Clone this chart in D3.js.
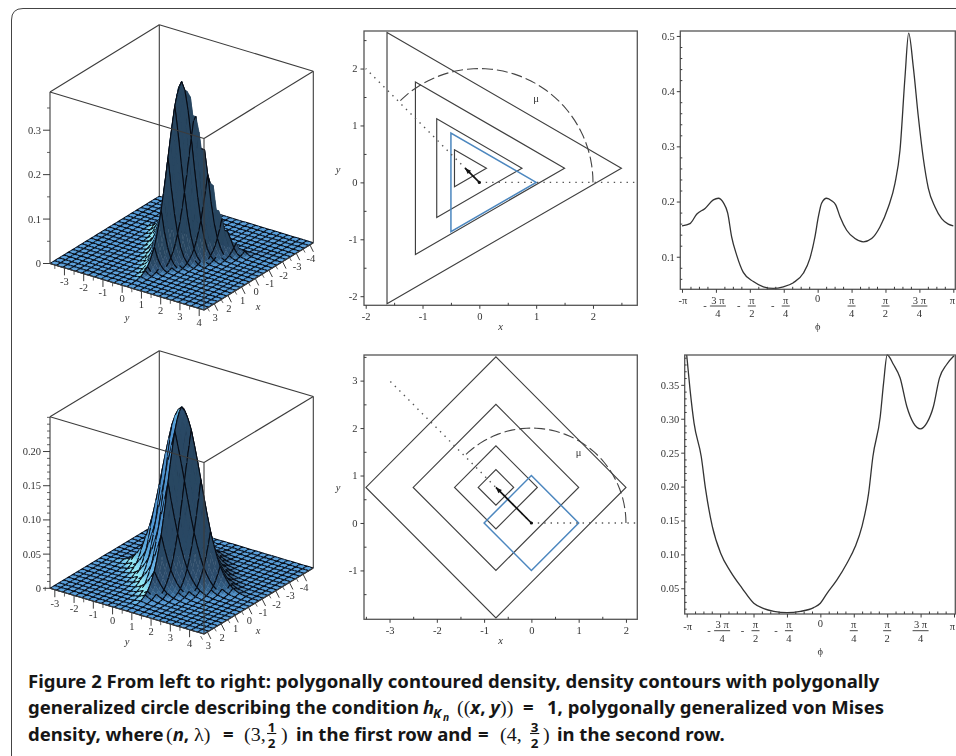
<!DOCTYPE html>
<html><head><meta charset="utf-8">
<style>html,body{margin:0;padding:0;background:#fff}svg{display:block}
.plot{filter:blur(.45px)}
.num{font-family:"Liberation Serif",serif;font-size:10.5px;fill:#333}
.it{font-style:italic}
</style>
<script src="https://d3js.org/d3.v7.min.js"></script></head><body>
<svg id="c" width="956" height="756"></svg>
<script>
// ---- data ----
const zTicksA=[0,0.1,0.2,0.3], zMinorA=[0.05,0.15,0.25,0.35], zLabelsA=["0","0.1","0.2","0.3"];
const zTicksB=[0,0.05,0.10,0.15,0.20], zMinorB=[0.01,0.02,0.03,0.04,0.06,0.07,0.08,0.09,0.11,0.12,0.13,0.14,0.16,0.17,0.18,0.19,0.21,0.22,0.23,0.24,0.25], zLabelsB=["0","0.05","0.10","0.15","0.20"];
const yTicks3D=[-3,-2,-1,0,1,2,3,4], xTicks3D=[-4,-3,-2,-1,0,1,2,3];
// density height against polygonal gauge value
const gaugeLevels=[0,0.25,0.5,0.75,1,1.25,1.5,1.75,2,2.25,2.5,2.75,3,3.25,3.5,4.5,20];
const heightA=[0.386,0.374,0.341,0.291,0.234,0.176,0.125,0.083,0.052,0.030,0.017,0.0085,0.004,0.0017,0.0007,0,0];
const heightB=[0.2505,0.243,0.221,0.189,0.152,0.114,0.081,0.054,0.034,0.020,0.011,0.0057,0.0028,0.0013,0.0005,0,0];
const contourRadiiA=[2.75,1.75,1,0.375], contourRadiiB=[2.75,1.75,0.875,0.375];
const muA=[-0.25,0.25], muB=[-0.75,0.75];
const xTicksA=[-2,-1,0,1,2], yTicksA=[-2,-1,0,1,2], xMinorA=[-1.5,-.5,.5,1.5,2.5], yMinorA=[-1.5,-.5,.5,1.5,2.5];
const xTicksB=[-3,-2,-1,0,1,2], yTicksB=[-1,0,1,2,3], xMinorB=[-3.5,-2.5,-1.5,-.5,.5,1.5], yMinorB=[-1.5,-.5,.5,1.5,2.5,3.5];
const phiA=[-1,-.941,-.892,-.83,-.769,-.732,-.695,-.663,-.634,-.597,-.548,-.474,-.4,-.327,-.253,-.179,-.106,-.057,-.02,.005,.029,.066,.103,.133,.165,.214,.275,.337,.398,.459,.521,.57,.607,.644,.671,.705,.742,.779,.816,.865,.914,.963,1];
const densA=[.156,.16,.177,.1875,.203,.206,.198,.179,.136,.103,.0716,.055,.0456,.0426,.0456,.053,.07,.097,.136,.172,.197,.206,.2015,.194,.1725,.148,.133,.127,.133,.154,.19,.233,.293,.426,.505,.444,.354,.278,.224,.19,.169,.159,.156];
const phiB=[-1,-.975,-.945,-.891,-.858,-.808,-.746,-.672,-.585,-.498,-.423,-.348,-.249,-.149,-.05,0,.05,.124,.199,.261,.311,.361,.393,.448,.473,.5,.547,.597,.647,.697,.749,.796,.846,.891,.945,1];
const densB=[.394,.343,.2935,.244,.195,.141,.1016,.0746,.05,.028,.02,.016,.014,.016,.0215,.028,.0426,.0623,.0869,.1115,.141,.19,.244,.303,.3525,.394,.38,.36,.318,.2935,.285,.2935,.318,.36,.38,.3928];
const phiTicks=[-1,-.75,-.5,-.25,0,.25,.5,.75,1];
const phiLabels=[["-π"],["-","3 π","4"],["-","π","2"],["-","π","4"],["0"],["","π","4"],["","π","2"],["","3 π","4"],["π"]];
const phiMinor=[-15,-14,-13,-11,-10,-9,-7,-6,-5,-3,-2,-1,1,2,3,5,6,7,9,10,11,13,14,15];
const vTicksA=[.1,.2,.3,.4,.5], vLabelsA=["0.1","0.2","0.3","0.4","0.5"], vMinorA=[.06,.08,.12,.14,.16,.18,.22,.24,.26,.28,.32,.34,.36,.38,.42,.44,.46,.48];
const vTicksB=[.05,.1,.15,.2,.25,.3,.35], vLabelsB=["0.05","0.10","0.15","0.20","0.25","0.30","0.35"], vMinorB=[.02,.03,.04,.06,.07,.08,.09,.11,.12,.13,.14,.16,.17,.18,.19,.21,.22,.23,.24,.26,.27,.28,.29,.31,.32,.33,.34,.36,.37,.38,.39];

const svg=d3.select("#c");
const INK="#3c3c3c";
svg.append("path").attr("d","M11.5,756V20Q11.5,8.5 23,8.5H956").attr("fill","none").attr("stroke","#444").attr("stroke-width",1);
const plots=svg.append("g").attr("class","plot");

// ---------- 3D surface ----------
const shade=d3.scaleLinear().domain([0,.25,.55,.78,.92,1.02]).range(["#284660","#2c4c6c","#33628c","#559ddb","#6cc0ea","#9af4f6"]).clamp(true);
function draw3D(o){
  const g=plots.append("g");
  const tx=d3.scaleLinear().domain(o.xDom).range([1,0]);
  const ty=d3.scaleLinear().domain(o.yDom).range([0,1]);
  const tz=d3.scaleLinear().domain([0,o.zMax]).range([0,o.h]);
  const P=(x,y,z)=>[o.L[0]+(o.F[0]-o.L[0])*ty(y)+(o.R[0]-o.F[0])*tx(x), o.L[1]+(o.F[1]-o.L[1])*ty(y)+(o.R[1]-o.F[1])*tx(x)-tz(z)];
  const line=(a,b,w)=>g.append("line").attr("x1",a[0]).attr("y1",a[1]).attr("x2",b[0]).attr("y2",b[1]).attr("stroke",INK).attr("stroke-width",w||1.1);
  const [x0,x1]=o.xDom,[y0,y1]=o.yDom,zM=o.zMax;
  line(P(x0,y0,0),P(x0,y0,zM));line(P(x1,y0,0),P(x1,y0,zM));line(P(x0,y1,0),P(x0,y1,zM));
  line(P(x0,y0,zM),P(x1,y0,zM));line(P(x0,y0,zM),P(x0,y1,zM));
  // surface: fine cells, floor mesh every 2 cells, peak mesh every 3 cells
  const hScale=d3.scaleLinear().domain(gaugeLevels).range(o.height);
  const Z=(x,y)=>hScale(o.gauge(x-o.mu[0],y-o.mu[1]));
  const n=48, gx=d3.scaleLinear().domain([0,n]).range(o.xDom), gy=d3.scaleLinear().domain([0,n]).range(o.yDom);
  const thr=.03*zM;
  const pt=(u,v)=>P(gx(u),gy(v),Z(gx(u),gy(v)));
  const zz=(u,v)=>Z(gx(u),gy(v));
  const keep=(k,a,b)=>Math.max(a,b)<thr?k%2===0:k%3===0;
  const items=[];
  const order=[];
  for(let i=0;i<n;i++)for(let j=0;j<n;j++)order.push([i,j]);
  order.sort((a,b)=>(a[0]+a[1])-(b[0]+b[1]));
  order.forEach(c=>{items.push({c,t:0});items.push({c,t:1});});
  const k=o.h/o.zMax/23, Lv=[.6/1.56,-.8/1.56,1.2/1.56];
  const fillOf=([i,j])=>{
    const z00=zz(i,j),z10=zz(i+1,j),z01=zz(i,j+1),z11=zz(i+1,j+1),d=gx(1)-gx(0);
    const dzx=(z10+z11-z00-z01)/2/d*k, dzy=(z01+z11-z00-z10)/2/d*k, len=Math.hypot(dzx,dzy,1);
    return shade((-dzx*Lv[0]-dzy*Lv[1]+Lv[2])/len);
  };
  g.append("g").selectAll("path").data(items).join("path")
   .attr("d",d=>{const [i,j]=d.c;
     if(d.t===0){return "M"+[pt(i,j),pt(i+1,j),pt(i+1,j+1),pt(i,j+1)].join("L")+"Z";}
     let s="";
     [[i,j,i,j+1,i],[i+1,j,i+1,j+1,i+1]].forEach(e=>{if(keep(e[4],zz(e[0],e[1]),zz(e[2],e[3])))s+="M"+pt(e[0],e[1])+"L"+pt(e[2],e[3]);});
     [[i,j,i+1,j,j],[i,j+1,i+1,j+1,j+1]].forEach(e=>{if(keep(e[4],zz(e[0],e[1]),zz(e[2],e[3])))s+="M"+pt(e[0],e[1])+"L"+pt(e[2],e[3]);});
     return s||null;})
   .attr("fill",d=>d.t===0?fillOf(d.c):"none")
   .attr("stroke",d=>d.t===0?fillOf(d.c):"#070a12")
   .attr("stroke-width",d=>d.t===0?.4:1.05);
  line(P(x1,y1,0),P(x1,y1,zM));line(P(x1,y0,zM),P(x1,y1,zM));line(P(x0,y1,zM),P(x1,y1,zM));
  line(P(x1,y0,0),P(x1,y1,0));line(P(x0,y1,0),P(x1,y1,0));
  // z axis
  o.zTicks.forEach((v,i)=>{const p=P(x1,y0,v);line(p,[p[0]-7,p[1]],1);
    g.append("text").attr("class","num").attr("x",o.zLabelX).attr("y",p[1]+3.5).attr("text-anchor","end").text(o.zLabels[i]);});
  o.zMinor.forEach(v=>{const p=P(x1,y0,v);line(p,[p[0]-3,p[1]],.8);});
  // y axis
  yTicks3D.forEach(v=>{const p=P(x1,v,0);line(p,[p[0],p[1]+7.5],1);
    g.append("text").attr("class","num").attr("x",p[0]).attr("y",p[1]+17).attr("text-anchor","middle").text(v);
    const q=P(x1,v-.5,0);line(q,[q[0],q[1]+4],.8);});
  // x axis
  xTicks3D.forEach(v=>{const p=P(v,y1,0);line(p,[p[0]+3.5,p[1]+7],1);
    g.append("text").attr("class","num").attr("x",p[0]+1).attr("y",p[1]+17).attr("text-anchor","middle").text(v);
    const q=P(v+.5,y1,0);line(q,[q[0]+2,q[1]+3.5],.8);});
  g.append("text").attr("class","num it").attr("x",127).attr("y",o.yTitleY).attr("text-anchor","middle").text("y");
  g.append("text").attr("class","num it").attr("x",258).attr("y",o.xTitleY).attr("text-anchor","middle").text("x");
}
const triGauge=(dx,dy)=>Math.max(2*(dx*.5+dy*.866),2*(-dx),2*(dx*.5-dy*.866));
const diaGauge=(dx,dy)=>Math.abs(dx)+Math.abs(dy);
draw3D({L:[50,263.5],F:[204,310],R:[313.3,242.7],h:171.5,xDom:[-4.25,3.75],yDom:[-3.75,4.25],zMax:.386,mu:muA,gauge:triGauge,height:heightA,
  zTicks:zTicksA,zMinor:zMinorA,zLabels:zLabelsA,zLabelX:41,yTitleY:321,xTitleY:310});
draw3D({L:[50,588.3],F:[204,634],R:[313.3,568],h:171.5,xDom:[-4.75,3.25],yDom:[-3.25,4.75],zMax:.2508,mu:muB,gauge:diaGauge,height:heightB,
  zTicks:zTicksB,zMinor:zMinorB,zLabels:zLabelsB,zLabelX:41,yTitleY:645,xTitleY:634});

function frame(g,r){
  g.append("rect").attr("x",r.x0).attr("y",r.y0).attr("width",r.x1-r.x0).attr("height",r.y1-r.y0).attr("fill","none").attr("stroke","#555").attr("stroke-width",1.3);
}
function styleAxis(s){s.select(".domain").remove();s.selectAll("line").attr("stroke",INK).attr("stroke-width",1);
  s.selectAll("text").attr("class","num").attr("fill",null);s.attr("font-family",null).attr("font-size",null);}

// ---------- contour panels ----------
function contour(o){
  const g=plots.append("g");
  const x=d3.scaleLinear().domain(o.xDom).range([o.r.x0,o.r.x1]), y=d3.scaleLinear().domain(o.yDom).range([o.r.y1,o.r.y0]);
  const polygon=(c,R)=>o.angles.map(a=>[c[0]+R*Math.cos(a*Math.PI/180),c[1]+R*Math.sin(a*Math.PI/180)]);
  const ln=d3.line().x(d=>x(d[0])).y(d=>y(d[1]));
  o.radii.forEach(R=>g.append("path").attr("d",ln(polygon(o.mu,R))+"Z").attr("fill","none").attr("stroke","#3f3f3f").attr("stroke-width",1.15));
  g.append("path").attr("d",ln(polygon([0,0],1))+"Z").attr("fill","none").attr("stroke","#4c87bf").attr("stroke-width",1.5);
  const arc=d3.range(0,136,3).map(a=>[2*Math.cos(a*Math.PI/180),2*Math.sin(a*Math.PI/180)]);
  g.append("path").attr("d",ln(arc)).attr("fill","none").attr("stroke","#444").attr("stroke-width",1.1).attr("stroke-dasharray","11 4");
  g.append("path").attr("d",ln([[0,0],[o.xDom[1],0]])).attr("stroke","#555").attr("stroke-width",1.4).attr("stroke-dasharray","1.4 5").attr("fill","none");
  g.append("path").attr("d",ln([[0,0],o.dotEnd])).attr("stroke","#555").attr("stroke-width",1.4).attr("stroke-dasharray","1.4 5").attr("fill","none");
  const tip=o.mu;
  const ang=Math.atan2(y(tip[1])-y(0),x(tip[0])-x(0));
  g.append("line").attr("x1",x(0)).attr("y1",y(0)).attr("x2",x(tip[0])).attr("y2",y(tip[1])).attr("stroke","#111").attr("stroke-width",1.7);
  g.append("path").attr("transform",`translate(${x(tip[0])},${y(tip[1])}) rotate(${ang*180/Math.PI})`).attr("d","M0,0L-6,-2.4L-6,2.4Z").attr("fill","#111");
  g.append("circle").attr("cx",x(0)).attr("cy",y(0)).attr("r",1.6).attr("fill","#111");
  g.append("text").attr("class","num").attr("x",x(1)).attr("y",y(1.47)+3).attr("text-anchor","middle").text("μ");
  frame(g,o.r);
  const ax=(gen,tr)=>g.append("g").attr("transform",tr).call(gen).call(styleAxis);
  ax(d3.axisBottom(x).tickValues(o.xTicks).tickFormat(d=>String(d)).tickSize(3.5).tickPadding(4),`translate(0,${o.r.y1})`);
  ax(d3.axisLeft(y).tickValues(o.yTicks).tickFormat(d=>String(d)).tickSize(3.5).tickPadding(3),`translate(${o.r.x0},0)`);
  ax(d3.axisBottom(x).tickValues(o.xMinor).tickFormat("").tickSize(-2.5),`translate(0,${o.r.y1})`);
  ax(d3.axisLeft(y).tickValues(o.yMinor).tickFormat("").tickSize(-2.5),`translate(${o.r.x0},0)`);
  g.append("text").attr("class","num it").attr("x",500.7).attr("y",o.r.y1+25).attr("text-anchor","middle").text("x");
  g.append("text").attr("class","num it").attr("x",338).attr("y",o.yTitleY).attr("text-anchor","middle").text("y");
}
contour({r:{x0:364,x1:637.3,y0:31,y1:305.3},xDom:[-2.03,2.78],yDom:[-2.16,2.66],radii:contourRadiiA,mu:muA,angles:[0,120,240],dotEnd:[-2,2],
  xTicks:xTicksA,yTicks:yTicksA,xMinor:xMinorA,yMinor:yMinorA,yTitleY:173});
contour({r:{x0:364,x1:637.3,y0:355,y1:619.3},xDom:[-3.54,2.24],yDom:[-2.03,3.54],radii:contourRadiiB,mu:muB,angles:[0,90,180,270],dotEnd:[-3,3],
  xTicks:xTicksB,yTicks:yTicksB,xMinor:xMinorB,yMinor:yMinorB,yTitleY:491});

// ---------- von Mises panels ----------
function curve(o){
  const g=plots.append("g");
  const x=d3.scaleLinear().domain([o.xp0,o.xp1]).range([o.r.x0,o.r.x1]), y=d3.scaleLinear().domain(o.yDom).range([o.r.y1,o.r.y0]);
  g.append("path").attr("d",d3.line().x(d=>x(d[0])).y(d=>y(d[1])).curve(d3.curveMonotoneX)(d3.zip(o.phi,o.dens))).attr("fill","none").attr("stroke","#333").attr("stroke-width",1.3);
  frame(g,o.r);
  g.append("g").attr("transform",`translate(0,${o.r.y1})`).call(d3.axisBottom(x).tickValues(phiTicks).tickFormat("").tickSize(3.5)).call(styleAxis);
  g.append("g").attr("transform",`translate(0,${o.r.y1})`).call(d3.axisBottom(x).tickValues(phiMinor.map(v=>v/16)).tickFormat("").tickSize(-2.5)).call(styleAxis);
  g.append("g").attr("transform",`translate(${o.r.x0},0)`).call(d3.axisLeft(y).tickValues(o.vTicks).tickFormat((d,i)=>o.vLabels[i]).tickSize(3.5).tickPadding(2)).call(styleAxis);
  g.append("g").attr("transform",`translate(${o.r.x0},0)`).call(d3.axisLeft(y).tickValues(o.vMinor).tickFormat("").tickSize(-2)).call(styleAxis);
  const t=(s,xx,yy,a)=>g.append("text").attr("class","num").attr("x",xx).attr("y",yy).attr("text-anchor",a||"middle").text(s);
  phiTicks.forEach((v,i)=>{const l=phiLabels[i],px=x(v),b=o.r.y1;
    if(v===1){t(l[0],955,b+o.numDy,"end");}
    else if(l.length===1){t(l[0],v===-1?px+1:px,b+(v===0?12.5:o.numDy));}
    else{const cx=px+(l[0]?2:0);
      if(l[0])t(l[0],px-11,b+19.8);
      t(l[1],cx,b+14.3);t(l[2],cx,b+27.8);
      g.append("line").attr("x1",cx-(l[1].length>1?8:4)).attr("x2",cx+(l[1].length>1?8:4)).attr("y1",b+16.7).attr("y2",b+16.7).attr("stroke","#333").attr("stroke-width",.9);
    }});
  t("ϕ",x(0),o.r.y1+41);
}
curve({r:{x0:680.3,x1:955.3,y0:31,y1:289.3},xp0:-1.0125,xp1:1.0147,yDom:[.041,.509],phi:phiA,dens:densA,vTicks:vTicksA,vLabels:vLabelsA,vMinor:vMinorA,numDy:14.7});
curve({r:{x0:684.7,x1:955.3,y0:355,y1:614},xp0:-1.015,xp1:1.0097,yDom:[.0121,.394],phi:phiB,dens:densB,vTicks:vTicksB,vLabels:vLabelsB,vMinor:vMinorB,numDy:16});

// ---------- caption ----------
const capFont='"Noto Sans",sans-serif', mathFont='"Liberation Serif",serif';
const capLines=[
 [{t:"Figure 2 From left to right: polygonally contoured density, density contours with polygonally",at:28}],
 [{t:"generalized circle describing the condition",at:28},{t:"h",i:1,at:423},{t:"K",i:1,s:.72,d:4,at:433},{t:"n",i:1,s:.55,d:7,at:443},{t:"((",m:1,at:457},{t:"x",i:1},{t:", "},{t:"y",i:1},{t:"))",m:1},{t:"=",at:523},{t:"1, polygonally generalized von Mises",at:547}],
 [{t:"density, where",at:28},{t:"(",m:1,at:166},{t:"n",i:1},{t:", "},{t:"λ",m:1},{t:")",m:1},{t:"=",at:223},{t:"(3,",m:1,at:244},{f:["1","2"],at:266},{t:")",m:1,at:281},{t:"in the first row and",at:296},{t:"=",at:478},{t:"(4,",m:1,at:500},{f:["3","2"],at:529},{t:")",m:1,at:543},{t:"in the second row.",at:557}]
];
const capBase=[688,714,741], capSize=18, capLeft=28, capTarget=852;
const cap=svg.append("g").attr("fill","#161616").attr("font-family",capFont).attr("font-weight",700);
const probe=cap.append("text").attr("font-size",capSize).text(capLines[0][0].t);
const sx=capTarget/probe.node().getComputedTextLength();probe.remove();
capLines.forEach((segs,li)=>{
  const row=cap.append("g").attr("transform",`translate(${capLeft},${capBase[li]}) scale(${sx},1)`);
  let cur=0;
  segs.forEach(sg=>{
    if(sg.at!==undefined)cur=(sg.at-capLeft)/sx;
    if(sg.f){
      const w=11;
      row.append("text").attr("x",cur+w/2).attr("y",-9.5).attr("text-anchor","middle").attr("font-size",13).text(sg.f[0]);
      row.append("text").attr("x",cur+w/2).attr("y",7).attr("text-anchor","middle").attr("font-size",13).text(sg.f[1]);
      row.append("line").attr("x1",cur+1).attr("x2",cur+w-1).attr("y1",-7.5).attr("y2",-7.5).attr("stroke","#161616").attr("stroke-width",1.1);
      cur+=w;return;
    }
    const tx=row.append("text").attr("x",cur).attr("y",sg.d||0).attr("font-size",sg.m?19.5:capSize*(sg.s||1)).style("white-space","pre")
      .attr("font-family",sg.m?mathFont:null).attr("font-weight",sg.m?400:null).attr("font-style",sg.i?"italic":null).text(sg.t);
    cur+=tx.node().getComputedTextLength();
  });
});
</script></body></html>
